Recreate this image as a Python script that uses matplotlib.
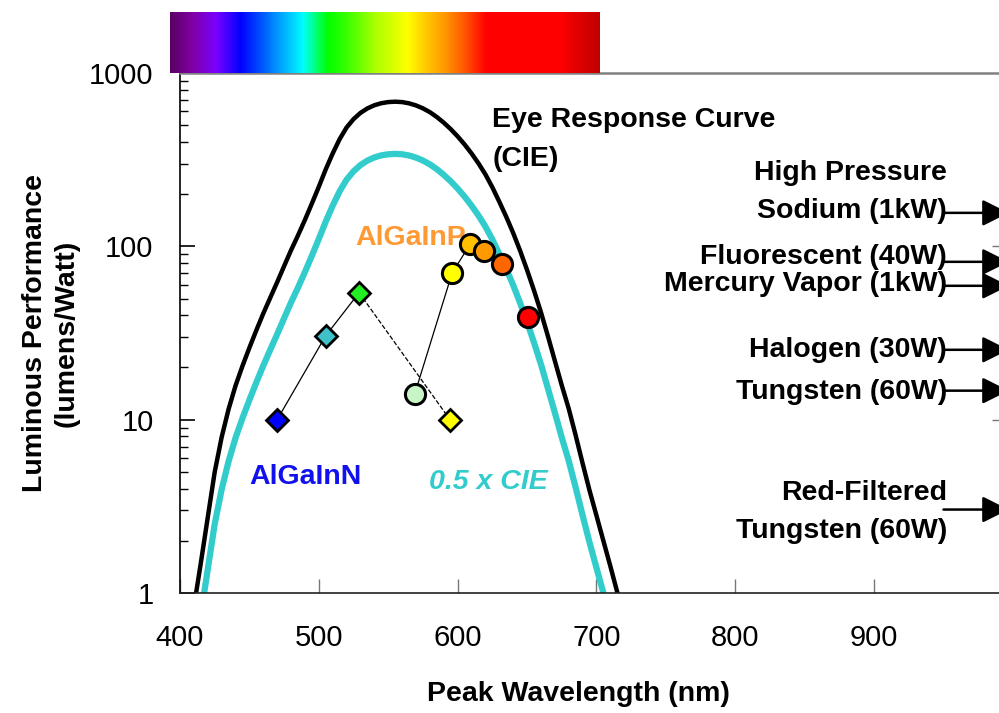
import numpy as np
import matplotlib
matplotlib.use('Agg')
import matplotlib.pyplot as plt
from matplotlib.colors import LinearSegmentedColormap

plt.rcParams['font.family'] = ['Liberation Sans', 'DejaVu Sans']

# CIE eye response (lm/W) and half of it, every 5 nm
wavelength = [400, 405, 410, 415, 420, 425, 430, 435, 440, 445, 450, 455, 460,
              465, 470, 475, 480, 485, 490, 495, 500, 505, 510, 515, 520, 525,
              530, 535, 540, 545, 550, 555, 560, 565, 570, 575, 580, 585, 590,
              595, 600, 605, 610, 615, 620, 625, 630, 635, 640, 645, 650, 655,
              660, 665, 670, 675, 680, 685, 690, 695, 700, 705, 710, 715, 720, 725]
eye_curve = [0.27, 0.44, 0.83, 1.49, 2.73, 4.99, 7.92, 11.5, 15.7, 20.4, 26.0,
             32.8, 41.0, 50.5, 62.1, 76.9, 95.0, 115.6, 142.1, 176.6, 220.6,
             278.2, 343.5, 415.4, 484.9, 541.8, 588.7, 624.8, 651.6, 669.5,
             679.6, 683.0, 679.6, 668.4, 650.2, 625.2, 594.2, 557.5, 517.0,
             474.6, 431.0, 387.1, 343.5, 301.3, 260.2, 219.2, 181.0, 148.2,
             119.5, 94.4, 73.1, 55.7, 41.7, 30.4, 21.9, 15.8, 11.6, 8.14, 5.61,
             3.91, 2.80, 2.00, 1.43, 1.01, 0.72, 0.51]
half_curve = [0.14, 0.22, 0.41, 0.75, 1.37, 2.50, 3.96, 5.75, 7.85, 10.2, 13.0,
              16.4, 20.5, 25.3, 31.1, 38.5, 47.5, 57.8, 71.1, 88.3, 110.3,
              139.1, 171.8, 207.7, 242.5, 270.9, 294.4, 312.4, 325.8, 334.8,
              339.8, 341.5, 339.8, 334.2, 325.1, 312.6, 297.1, 278.8, 258.5,
              237.3, 215.5, 193.6, 171.8, 150.7, 130.1, 109.6, 90.5, 74.1,
              59.8, 47.2, 36.6, 27.9, 20.9, 15.2, 11.0, 7.9, 5.8, 4.07, 2.81,
              1.96, 1.40, 1.00, 0.72, 0.51, 0.36, 0.26]

# AlGaInN LEDs (diamonds)
ingan_wl = [470, 505, 529, 594.5]
ingan_lmw = [10, 30.5, 54, 10]
ingan_colors = ['#0000ff', '#40c0c8', '#22ee22', '#ffff00']

# AlGaInP LEDs (circles)
gap_wl = [569, 596, 609, 619, 632, 651]
gap_lmw = [14, 70, 103, 94, 79, 39]
gap_colors = ['#c8f5c8', '#ffff00', '#ffc000', '#ff9900', '#ff6600', '#ff0000']

# conventional lamps
lamp_labels = ['High Pressure\nSodium (1kW)', 'Fluorescent (40W)',
               'Mercury Vapor (1kW)', 'Halogen (30W)', 'Tungsten (60W)',
               'Red-Filtered\nTungsten (60W)']
lamp_label_y = [206, 87, 60.5, 25.3, 14.5, 2.93]
lamp_lmw = [156, 81.4, 59.2, 25.3, 14.7, 3.03]

# visible spectrum bar colours
spec_pos = [0, 0.047, 0.105, 0.163, 0.221, 0.309, 0.365, 0.407, 0.477,
            0.553, 0.593, 0.640, 0.698, 0.737, 0.907, 1.0]
spec_cols = ['#5a0066', '#8000a0', '#7a00ff', '#0000ff', '#0066ff', '#00ffff',
             '#00ff00', '#33ff00', '#aaff00', '#ffff00', '#ffcc00', '#ff9900',
             '#ff4400', '#ff0000', '#ff0000', '#c00000']

fs = 20.5

fig = plt.figure(figsize=(9.99, 7.13), dpi=100)
ax = fig.add_axes([180/999, 120/713, 819/999, 520/713])

ax.plot(wavelength, eye_curve, color='black', lw=3.2, zorder=2)
ax.plot(wavelength, half_curve, color='#33cccc', lw=4.5, zorder=2)

# connecting lines
ax.plot(ingan_wl[:3], ingan_lmw[:3], color='black', lw=0.9, zorder=3)
ax.plot(ingan_wl[2:], ingan_lmw[2:], color='black', lw=0.9, ls='--', zorder=3)
ax.plot(gap_wl[:3], gap_lmw[:3], color='black', lw=0.9, zorder=3)

for x, y, c in zip(ingan_wl, ingan_lmw, ingan_colors):
    ax.plot(x, y, marker='D', ms=11, mfc=c, mec='black', mew=2, zorder=4)
for x, y, c in zip(gap_wl, gap_lmw, gap_colors):
    ax.plot(x, y, marker='o', ms=14.5, mfc=c, mec='black', mew=2.2, zorder=4)

ax.set_yscale('log')
ax.set_xlim(400, 990)
ax.set_ylim(1, 1000)
ax.set_xticks([400, 500, 600, 700, 800, 900])
ax.set_yticks([1, 10, 100, 1000])
ax.set_yticklabels(['1', '10', '100', '1000'])
ax.tick_params(axis='y', which='major', direction='in', length=11, width=1.2,
               labelsize=21, pad=19)
ax.tick_params(axis='y', which='minor', direction='in', length=6, width=1)
ax.tick_params(axis='x', direction='in', length=10, width=1, color='#777777',
               labelsize=21, pad=22)
ax.spines['top'].set_color('#808080')
ax.spines['top'].set_linewidth(1.8)
ax.spines['right'].set_visible(False)
ax.spines['left'].set_linewidth(1.2)
ax.spines['bottom'].set_linewidth(1.2)
ax.spines['bottom'].set_color('#222222')

# small ticks on the right edge
ax2 = ax.twinx()
ax2.set_yscale('log')
ax2.set_ylim(1, 1000)
ax2.set_yticks([10, 100])
ax2.yaxis.set_minor_locator(plt.NullLocator())
ax2.tick_params(axis='y', direction='in', length=5, width=1, color='#777777',
                labelright=False)
for s in ax2.spines.values():
    s.set_visible(False)

ax.set_xlabel('Peak Wavelength (nm)', fontsize=fs, fontweight='bold')
ax.set_ylabel('Luminous Performance\n(lumens/Watt)', fontsize=fs,
              fontweight='bold', linespacing=1.3)
ax.xaxis.set_label_coords(0.487, -0.17)
ax.yaxis.set_label_coords(-0.122, 0.5)

ax.text(625, 535, 'Eye Response Curve', fontsize=fs, fontweight='bold',
        ha='left', va='center')
ax.text(625, 319, '(CIE)', fontsize=fs, fontweight='bold', ha='left', va='center')
ax.text(566, 112, 'AlGaInP', fontsize=fs, fontweight='bold', color='#ff9933',
        ha='center', va='center', zorder=1)
ax.text(490, 4.67, 'AlGaInN', fontsize=fs, fontweight='bold', color='#1111ee',
        ha='center', va='center')
ax.text(622, 4.37, '0.5 x CIE', fontsize=fs, fontweight='bold', style='italic',
        color='#33cccc', ha='center', va='center')

for lab, ty, v in zip(lamp_labels, lamp_label_y, lamp_lmw):
    ax.text(952.5, ty, lab, fontsize=fs, fontweight='bold', ha='right',
            va='center', multialignment='right', linespacing=1.58)
    ax.annotate('', xy=(997, v), xytext=(950, v), annotation_clip=False,
                arrowprops=dict(arrowstyle='-|>,head_width=0.3,head_length=0.6',
                                mutation_scale=27, lw=1.8, color='black',
                                shrinkA=0, shrinkB=0))

# spectrum bar above the plot
cmap = LinearSegmentedColormap.from_list('spec', list(zip(spec_pos, spec_cols)))
bar_ax = fig.add_axes([170/999, 640/713, 430/999, 61/713])
bar_ax.imshow(np.linspace(0, 1, 500)[None, :], aspect='auto', cmap=cmap)
bar_ax.set_axis_off()

fig.savefig('out.png', dpi=100)
